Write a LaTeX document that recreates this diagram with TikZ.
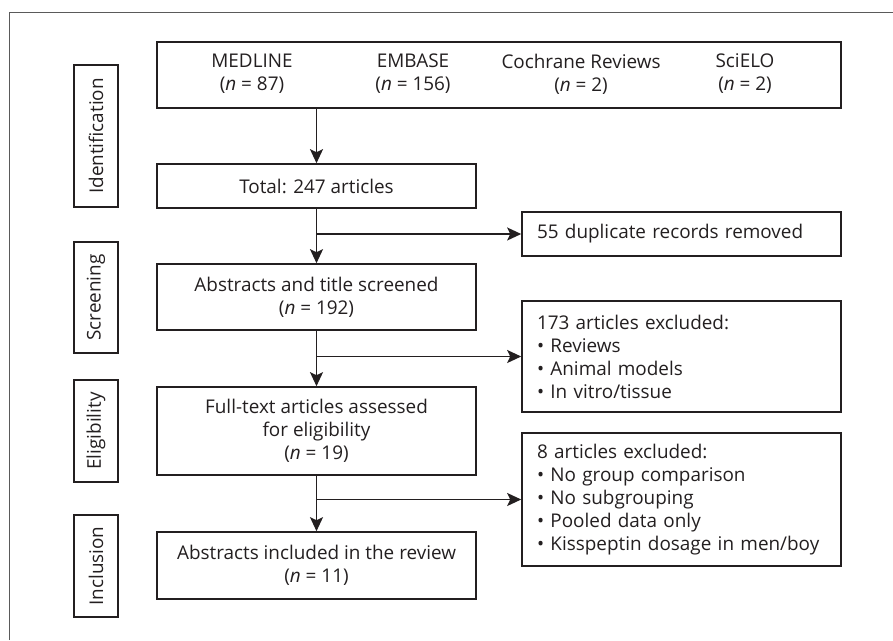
\documentclass[tikz,border=0pt]{standalone}
\usepackage{fontspec}
\setmainfont{Open Sans}
\usetikzlibrary{arrows.meta,positioning}
\definecolor{ink}{HTML}{231F20}
\definecolor{framegray}{HTML}{5A5A5A}
\begin{document}
\begin{tikzpicture}[x=1pt,y=-1pt,
  every node/.style={font=\fontsize{18.9}{23}\selectfont, text=ink},
  box/.style={draw=ink, line width=1.6pt, rectangle, inner sep=0pt, align=center},
  exbox/.style={draw=ink, line width=1.6pt, rectangle, inner xsep=15pt, inner ysep=0pt, align=left, text width=289pt},
  stage/.style={draw=ink, line width=1.6pt, rectangle, rotate=90, minimum height=44pt, inner sep=0pt},
  src/.style={align=center, inner sep=0pt},
  arr/.style={draw=ink, line width=1.6pt, -{Stealth[length=14pt,width=13pt,inset=3pt]}},
  ln/.style={draw=ink, line width=1.6pt}]
\useasboundingbox (0,0) rectangle (893,640);
\draw[framegray, line width=1pt] (9,640) -- (9,12) -- (893,12);

% stage labels
\node[stage, minimum width=142pt] (sid) at (96,136) {Identification};
\node[stage, minimum width=111pt] (ssc) at (96,297.5) {Screening};
\node[stage, minimum width=102pt] (sel) at (96,431) {Eligibility};
\node[stage, minimum width=102pt] (sin) at (96,566) {Inclusion};

% source box
\node[box, minimum width=684pt, minimum height=66pt] (top) at (499,75) {};
\node[src] (med) at (252,74) {MEDLINE\\(\textit{n} = 87)};
\node[src] (emb) at (413,74) {EMBASE\\(\textit{n} = 156)};
\node[src] (coc) at (581,74) {Cochrane Reviews\\(\textit{n} = 2)};
\node[src] (sci) at (745,74) {SciELO\\(\textit{n} = 2)};

% main column
\node[box, minimum width=319pt, minimum height=44pt] (tot) at (316.5,186) {Total: 247 articles};
\node[box, minimum width=319pt, minimum height=66pt] (abs) at (316.5,297) {Abstracts and title screened\\(\textit{n} = 192)};
\node[box, minimum width=319pt, minimum height=88pt] (ful) at (316.5,431) {Full-text articles assessed\\for eligibility\\(\textit{n} = 19)};
\node[box, minimum width=319pt, minimum height=67pt] (inc) at (316.5,565.5) {Abstracts included in the review\\(\textit{n} = 11)};

% exclusion column
\node[box, minimum width=319pt, minimum height=44pt, align=left, inner xsep=15pt, text width=289pt] (dup) at (681.5,234) {55 duplicate records removed};
\node[exbox, minimum height=111pt] (e173) at (681.5,356.5) {173 articles excluded:\\\textbullet\ Reviews\\\textbullet\ Animal models\\\textbullet\ In vitro/tissue};
\node[exbox, minimum height=133pt] (e8) at (681.5,499.5) {8 articles excluded:\\\textbullet\ No group comparison\\\textbullet\ No subgrouping\\\textbullet\ Pooled data only\\\textbullet\ Kisspeptin dosage in men/boy};

% connectors
\draw[arr] (tot.north |- top.south) -- (tot.north);
\draw[arr] (tot.south) -- (abs.north);
\draw[arr] (abs.south) -- (ful.north);
\draw[arr] (ful.south) -- (inc.north);
\draw[arr] (tot.south |- dup.west) -- (dup.west);
\draw[arr] (abs.south |- e173.west) -- (e173.west);
\draw[arr] (ful.south |- e8.west) -- (e8.west);
\end{tikzpicture}
\end{document}
